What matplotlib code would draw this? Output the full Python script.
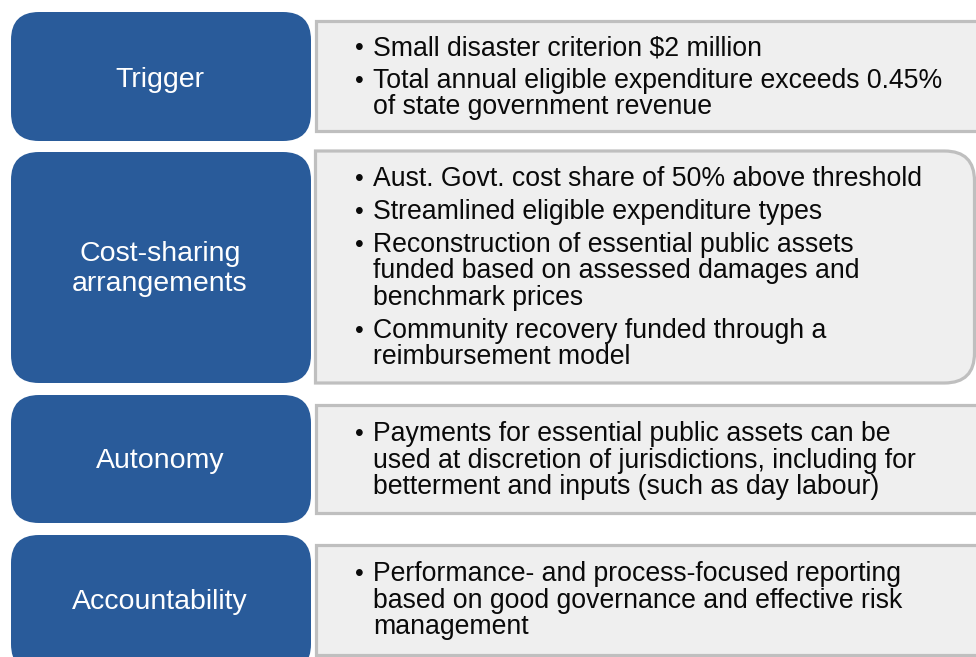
import matplotlib.pyplot as plt
from matplotlib.patches import FancyBboxPatch, Rectangle, PathPatch
from matplotlib.path import Path

plt.rcParams['font.family'] = ['Liberation Sans', 'DejaVu Sans']

# categories (left blue boxes)
categories = ['Trigger', 'Cost-sharing\narrangements', 'Autonomy', 'Accountability']

# bullet points, each bullet is a list of wrapped lines
bullets = [
    [['Small disaster criterion $2 million'],
     ['Total annual eligible expenditure exceeds 0.45%', 'of state government revenue']],
    [['Aust. Govt. cost share of 50% above threshold'],
     ['Streamlined eligible expenditure types'],
     ['Reconstruction of essential public assets', 'funded based on assessed damages and', 'benchmark prices'],
     ['Community recovery funded through a', 'reimbursement model']],
    [['Payments for essential public assets can be',
      'used at discretion of jurisdictions, including for',
      'betterment and inputs (such as day labour)']],
    [['Performance- and process-focused reporting',
      'based on good governance and effective risk',
      'management']],
]

# layout in pixels (top, bottom)
blue_rows = [(12, 141), (152, 383), (395, 523), (535, 672)]
gray_rows = [(21, 131), (151, 383), (405, 513), (545, 655)]
label_y = [80, 269, 461, 602]
first_line_y = [48, 179, 434, 574]
line_gap = 26.5
bullet_gap = 33

BLUE = '#295b9a'
GRAY_FILL = '#efefef'
GRAY_EDGE = '#bfbfbf'

fig = plt.figure(figsize=(9.76, 6.57), dpi=100)
ax = fig.add_axes([0, 0, 1, 1])
ax.set_xlim(0, 976)
ax.set_ylim(657, 0)
ax.axis('off')

for i, cat in enumerate(categories):
    top, bot = blue_rows[i]
    r = 28
    box = FancyBboxPatch((11 + r, top + r), 300 - 2 * r, bot - top - 2 * r,
                         boxstyle='round,pad=%d' % r, fc=BLUE, ec='none')
    ax.add_patch(box)
    ax.text(160, label_y[i], cat, color='white', fontsize=20.5,
            ha='center', va='center', linespacing=1.16)

    gt, gb = gray_rows[i]
    if i == 1:
        # rounded on the right side only
        x0, x1, rr = 315.5, 974.5, 30
        verts = [(x0, gt), (x1 - rr, gt), (x1, gt), (x1, gt + rr),
                 (x1, gb - rr), (x1, gb), (x1 - rr, gb), (x0, gb), (x0, gt)]
        codes = [Path.MOVETO, Path.LINETO, Path.CURVE3, Path.CURVE3,
                 Path.LINETO, Path.CURVE3, Path.CURVE3, Path.LINETO, Path.CLOSEPOLY]
        ax.add_patch(PathPatch(Path(verts, codes), fc=GRAY_FILL, ec=GRAY_EDGE, lw=2.3))
    else:
        ax.add_patch(Rectangle((315.5, gt), 700, gb - gt, fc=GRAY_FILL, ec=GRAY_EDGE, lw=2.3))

    y = first_line_y[i]
    for b in bullets[i]:
        ax.text(355, y, '\u2022', fontsize=18, ha='left', va='center', color='#0a0a0a')
        for j, line in enumerate(b):
            ax.text(373, y + j * line_gap, line, fontsize=19.2, ha='left', va='center',
                    color='#0a0a0a')
        y += (len(b) - 1) * line_gap + bullet_gap

fig.savefig('out.png', dpi=100)
